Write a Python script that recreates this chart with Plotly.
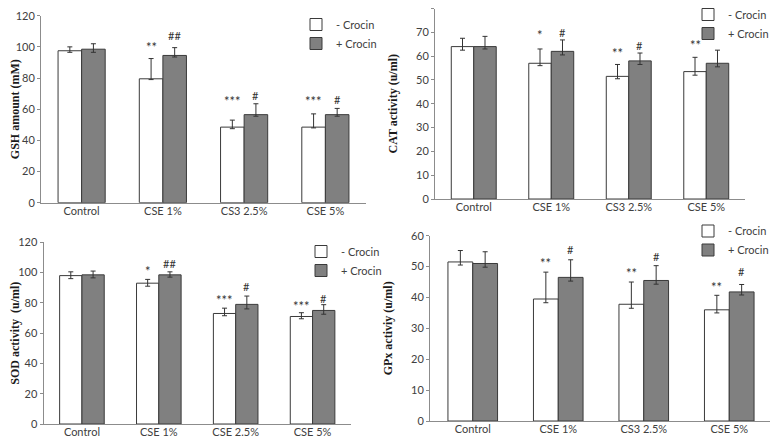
import plotly.graph_objects as go

# ---------------- data ----------------
cats_gsh = ["Control", "CSE 1%", "CS3 2.5%", "CSE 5%"]
cats_cat = ["Control", "CSE 1%", "CS3 2.5%", "CSE 5%"]
cats_sod = ["Control", "CSE 1%", "CSE 2.5%", "CSE 5%"]
cats_gpx = ["Control", "CSE 1%", "CS3 2.5%", "CSE 5%"]

gsh_minus = [97.5, 79.5, 48.5, 48.5]
gsh_minus_hi = [100, 92.5, 53, 57]
gsh_minus_lo = [96.5, 79, 47.5, 48]
gsh_plus = [98.5, 94.5, 56.5, 56.5]
gsh_plus_hi = [102, 99.5, 63.5, 60.5]
gsh_plus_lo = [96.5, 93.5, 55.5, 55.5]
gsh_sig_minus = ["", "**", "***", "***"]
gsh_sig_minus_y = [0, 100, 65, 65]
gsh_sig_plus = ["", "##", "#", "#"]
gsh_sig_plus_y = [0, 107, 69, 66]

cat_minus = [64, 57, 51.5, 53.5]
cat_minus_hi = [67.5, 63, 56.5, 59.5]
cat_minus_lo = [62.5, 56, 50.5, 52]
cat_plus = [64, 62, 58, 57]
cat_plus_hi = [68.3, 66.8, 61.3, 62.5]
cat_plus_lo = [63, 60.5, 56.5, 55.5]
cat_sig_minus = ["", "*", "**", "**"]
cat_sig_minus_y = [0, 69, 61.5, 64.5]
cat_sig_plus = ["", "#", "#", ""]
cat_sig_plus_y = [0, 70, 64.5, 0]

sod_minus = [98, 93, 73, 71]
sod_minus_hi = [100.5, 95.5, 76.5, 73.5]
sod_minus_lo = [96, 91, 71.5, 69.5]
sod_plus = [98.5, 98.5, 79, 75]
sod_plus_hi = [101, 100.5, 84.5, 78.8]
sod_plus_lo = [96.5, 97, 76, 72.5]
sod_sig_minus = ["", "*", "***", "***"]
sod_sig_minus_y = [0, 101, 82, 78]
sod_sig_plus = ["", "##", "#", "#"]
sod_sig_plus_y = [0, 106, 90.5, 83]

gpx_minus = [51.5, 39.5, 37.8, 36]
gpx_minus_hi = [55.2, 48.2, 45, 40.7]
gpx_minus_lo = [50.5, 38.3, 36.5, 35]
gpx_plus = [51, 46.5, 45.5, 41.8]
gpx_plus_hi = [54.8, 52.2, 50.3, 44.2]
gpx_plus_lo = [49.8, 45.3, 44.3, 40.8]
gpx_sig_minus = ["", "**", "**", "**"]
gpx_sig_minus_y = [0, 51.2, 47.8, 43.3]
gpx_sig_plus = ["", "#", "#", "#"]
gpx_sig_plus_y = [0, 55.5, 53.4, 48.3]

ytitles = ["GSH amount (mM)", "CAT activity (u/ml)", "SOD activity  (u/ml)", "GPx activiy (u/ml)"]
legend_names = ["- Crocin", "+ Crocin"]

# ---------------- layout geometry (screen px of the 778x439 page) ----------------
OFF = 8                      # default page body margin
W, H = 778 - OFF, 439 - OFF  # figure size so that it ends at the window edge
panels = [
    dict(cats=cats_gsh, m=gsh_minus, mhi=gsh_minus_hi, mlo=gsh_minus_lo,
         p=gsh_plus, phi=gsh_plus_hi, plo=gsh_plus_lo,
         sm=gsh_sig_minus, smy=gsh_sig_minus_y, sp=gsh_sig_plus, spy=gsh_sig_plus_y,
         yr=120, dt=20, x0=41, x1=366, ybot=202.7, ytop=15.7, leg=(335, 34)),
    dict(cats=cats_cat, m=cat_minus, mhi=cat_minus_hi, mlo=cat_minus_lo,
         p=cat_plus, phi=cat_plus_hi, plo=cat_plus_lo,
         sm=cat_sig_minus, smy=cat_sig_minus_y, sp=cat_sig_plus, spy=cat_sig_plus_y,
         yr=80, dt=10, x0=435, x1=745, ybot=199, ytop=8.5, leg=(727, 24)),
    dict(cats=cats_sod, m=sod_minus, mhi=sod_minus_hi, mlo=sod_minus_lo,
         p=sod_plus, phi=sod_plus_hi, plo=sod_plus_lo,
         sm=sod_sig_minus, smy=sod_sig_minus_y, sp=sod_sig_plus, spy=sod_sig_plus_y,
         yr=120, dt=20, x0=43.5, x1=351, ybot=424, ytop=242.3, leg=(340, 261)),
    dict(cats=cats_gpx, m=gpx_minus, mhi=gpx_minus_hi, mlo=gpx_minus_lo,
         p=gpx_plus, phi=gpx_plus_hi, plo=gpx_plus_lo,
         sm=gpx_sig_minus, smy=gpx_sig_minus_y, sp=gpx_sig_plus, spy=gpx_sig_plus_y,
         yr=60, dt=10, x0=430, x1=772, ybot=421, ytop=235.7, leg=(727, 240.5)),
]
LEG_TEXT_DX = 39   # legend text starts this far right of the legend's x

BARGAP = 0.42
fig = go.Figure()
layout = dict(
    width=W, height=H, margin=dict(l=0, r=0, t=0, b=0, pad=0, autoexpand=False),
    paper_bgcolor="white", plot_bgcolor="white",
    barmode="group", bargap=BARGAP, bargroupgap=0,
    font=dict(family="Lato, 'Open Sans', sans-serif", size=11, color="#404040"),
)
annotations = []
err_style = dict(color="#333333", thickness=1, width=2.5)


def diff(a, b):
    return [abs(u - v) for u, v in zip(a, b)]


def clamp01(v):
    return min(1.0, max(0.0, v))


for i, pn in enumerate(panels):
    k = "" if i == 0 else str(i + 1)
    xa, ya = "x" + k, "y" + k
    lg = "legend" + k
    fig.add_trace(go.Bar(
        x=pn["cats"], y=pn["m"], name=legend_names[0], xaxis=xa, yaxis=ya, legend=lg,
        marker=dict(color="white", line=dict(color="#3a3a3a", width=1)),
        error_y=dict(type="data", symmetric=False, array=diff(pn["mhi"], pn["m"]),
                     arrayminus=diff(pn["m"], pn["mlo"]), **err_style),
    ))
    fig.add_trace(go.Bar(
        x=pn["cats"], y=pn["p"], name=legend_names[1], xaxis=xa, yaxis=ya, legend=lg,
        marker=dict(color="#808080", line=dict(color="#3a3a3a", width=1)),
        error_y=dict(type="data", symmetric=False, array=diff(pn["phi"], pn["p"]),
                     arrayminus=diff(pn["p"], pn["plo"]), **err_style),
    ))
    dom_x = [clamp01((pn["x0"] - OFF) / W), clamp01((pn["x1"] - OFF) / W)]
    dom_y = [clamp01(1 - (pn["ybot"] - OFF) / H), clamp01(1 - (pn["ytop"] - OFF) / H)]
    catpx = (pn["x1"] - pn["x0"]) / 4
    shift = catpx * (1 - BARGAP) / 4
    layout["xaxis" + k] = dict(
        domain=dom_x, anchor=ya, type="category", range=[-0.5, 3.5],
        showline=True, linecolor="#8c8c8c", linewidth=1, ticks="",
        ticklabelstandoff=-2, automargin=False,
        showgrid=False, tickfont=dict(size=11, color="#404040"), fixedrange=True,
    )
    layout["yaxis" + k] = dict(
        domain=dom_y, anchor=xa, range=[0, pn["yr"]], dtick=pn["dt"], tick0=0,
        showline=True, linecolor="#8c8c8c", linewidth=1, ticks="outside",
        ticklen=3, tickcolor="#8c8c8c", showgrid=False, zeroline=False,
        automargin=False,
        tickfont=dict(size=11, color="#404040"),
        title=dict(text=ytitles[i],
                   font=dict(family="'Liberation Serif', 'Times New Roman', serif",
                             size=12, color="#1a1a1a", weight="bold")),
    )
    layout[lg] = dict(
        x=(pn["leg"][0] - OFF - LEG_TEXT_DX) / W, y=1 - (pn["leg"][1] - OFF) / H,
        xanchor="left", yanchor="middle",
        bgcolor="rgba(0,0,0,0)", font=dict(size=11, color="#404040"),
        itemwidth=30, tracegroupgap=0,
    )
    for j, c in enumerate(pn["cats"]):
        if pn["sm"][j]:
            annotations.append(dict(x=c, y=pn["smy"][j], xref=xa, yref=ya, text=pn["sm"][j],
                                    showarrow=False, xshift=-shift, yanchor="middle",
                                    font=dict(size=13, color="#333333")))
        if pn["sp"][j]:
            annotations.append(dict(x=c, y=pn["spy"][j], xref=xa, yref=ya, text=pn["sp"][j],
                                    showarrow=False, xshift=shift, yanchor="middle",
                                    font=dict(size=11, color="#333333")))

layout["annotations"] = annotations
fig.update_layout(**layout)
fig.write_html("out.html")
